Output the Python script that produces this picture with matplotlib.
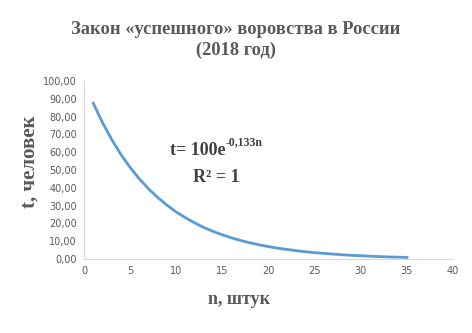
import matplotlib
matplotlib.use("Agg")
import matplotlib.pyplot as plt
from matplotlib.ticker import FuncFormatter

# values, n = 1..35
n = list(range(1, 36))
t = [87.5, 76.6, 67.1, 58.7, 51.4, 45.0, 39.4, 34.5, 30.2, 26.4,
     23.2, 20.3, 17.7, 15.5, 13.6, 11.9, 10.4, 9.1, 8.0, 7.0,
     6.1, 5.4, 4.7, 4.1, 3.6, 3.2, 2.8, 2.4, 2.1, 1.9,
     1.6, 1.4, 1.2, 1.1, 0.9]
x_ticks = [0, 5, 10, 15, 20, 25, 30, 35, 40]
y_ticks = [0, 10, 20, 30, 40, 50, 60, 70, 80, 90, 100]

serif = ["Liberation Serif", "DejaVu Serif"]
gray = "#595959"

fig = plt.figure(figsize=(4.72, 3.33), dpi=100)
ax = fig.add_axes([0.178, 0.222, 0.782, 0.535])

ax.plot(n, t, color="#5B9BD5", lw=2)

ax.set_xlim(0, 40)
ax.set_ylim(0, 100)
ax.set_xticks(x_ticks)
ax.set_yticks(y_ticks)
ax.yaxis.set_major_formatter(FuncFormatter(lambda v, p: f"{v:.2f}".replace(".", ",")))
ax.tick_params(length=0, labelsize=7, colors=gray, pad=5)

for s in ["top", "right"]:
    ax.spines[s].set_visible(False)
for s in ["left", "bottom"]:
    ax.spines[s].set_color("#d9d9d9")
    ax.spines[s].set_linewidth(0.8)

fig.text(0.5, 0.88, "Закон «успешного» воровства в России\n(2018 год)",
         ha="center", va="center", fontsize=13.3, fontweight="bold",
         color=gray, family=serif, linespacing=1.28)
fig.text(0.062, 0.515, "t, человек", rotation=90, ha="center", va="center",
         fontsize=15, fontweight="bold", color=gray, family=serif)
fig.text(0.506, 0.10, "n, штук", ha="center", va="center",
         fontsize=13, fontweight="bold", color=gray, family=serif)

# trend line equation, superscript drawn as a separate smaller text
eq = ax.text(0.233, 0.61, "t= 100e", transform=ax.transAxes,
             ha="left", va="center", fontsize=13, fontweight="bold",
             color="#404040", family=serif)
fig.canvas.draw()
bb = eq.get_window_extent().transformed(ax.transAxes.inverted())
ax.text(bb.x1, 0.655, "-0,133n", transform=ax.transAxes,
        ha="left", va="center", fontsize=8.5, fontweight="bold",
        color="#404040", family=serif)
ax.text(0.296, 0.46, "R² = 1", transform=ax.transAxes, ha="left", va="center",
        fontsize=13, fontweight="bold", color="#404040", family=serif)

fig.savefig("out.png", dpi=100)
